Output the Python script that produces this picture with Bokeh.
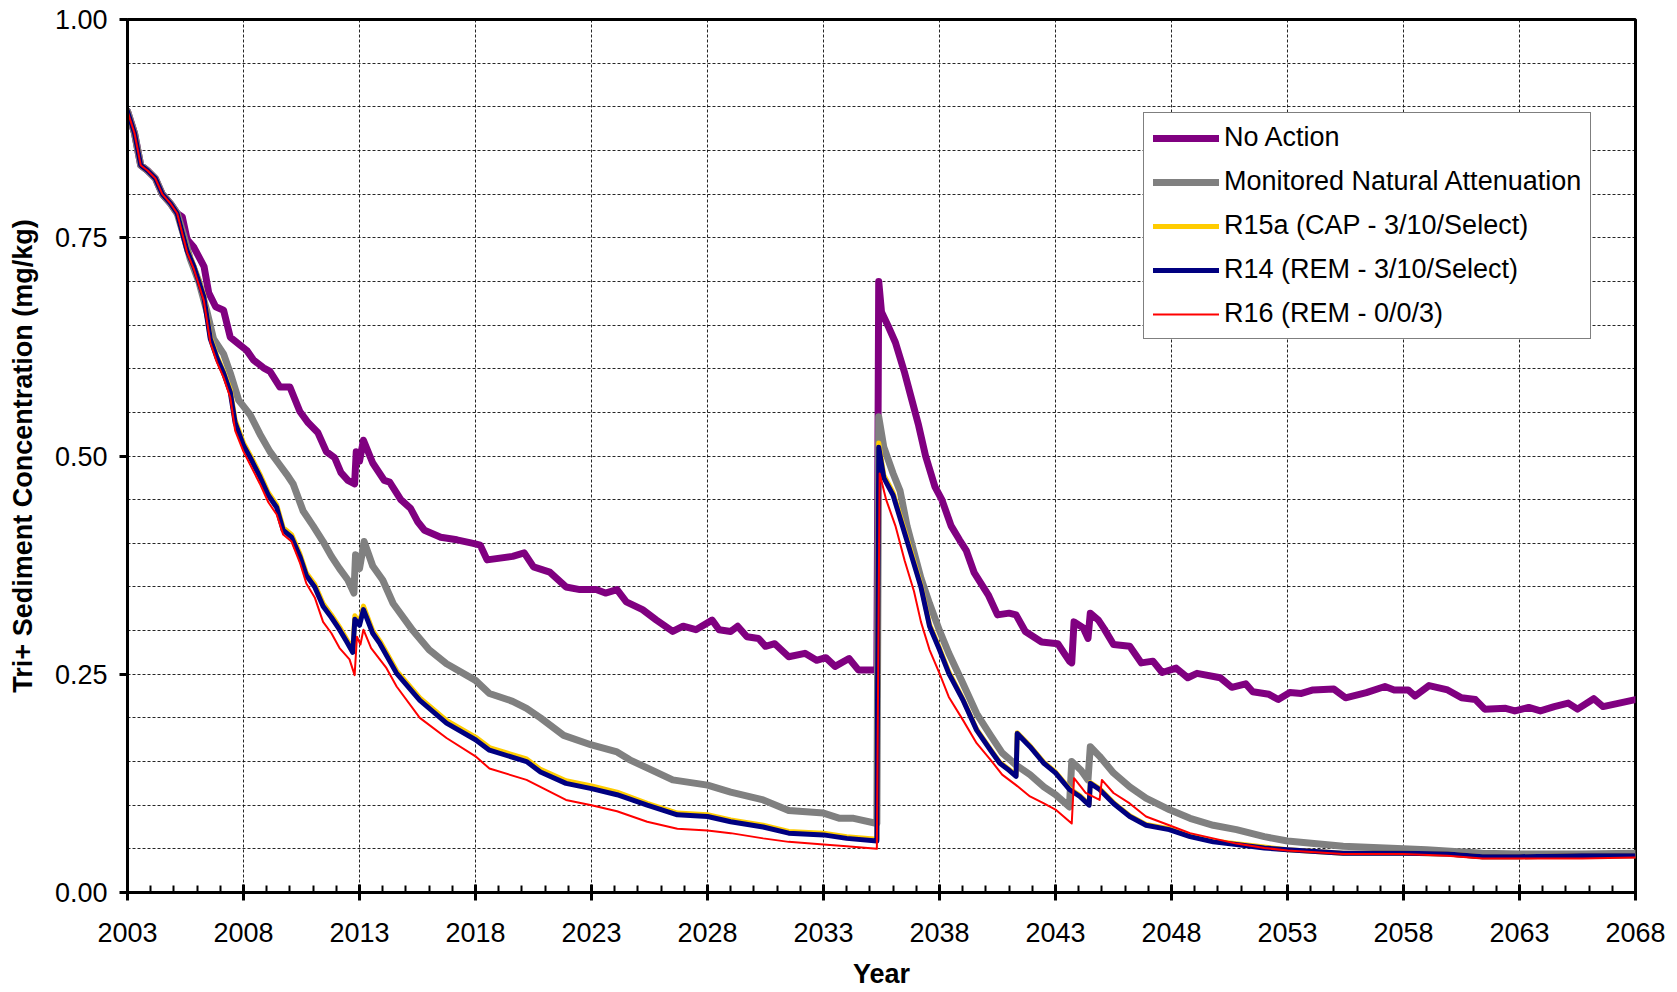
from bokeh.plotting import figure
from bokeh.models import (Legend, LegendItem, FixedTicker, Range1d)
from bokeh.embed import file_html
from bokeh.resources import INLINE

# ---------------- data ----------------
common_years = [2003.0, 2003.3, 2003.57, 2003.86, 2004.2, 2004.5, 2004.86, 2005.14]
common_vals = [0.895, 0.870, 0.833, 0.827, 0.818, 0.800, 0.789, 0.778]

na_years = common_years + [
    2005.36, 2005.57, 2005.86, 2006.3, 2006.5, 2006.8, 2007.14, 2007.43, 2007.86,
    2008.14, 2008.43, 2008.86, 2009.14, 2009.57, 2010.0, 2010.43, 2010.79, 2011.2,
    2011.57, 2011.93, 2012.2, 2012.5, 2012.79, 2012.86, 2013.0, 2013.17, 2013.57,
    2014.07, 2014.3, 2014.78, 2015.2, 2015.5, 2015.8, 2016.5, 2017.2, 2017.9,
    2018.2, 2018.5, 2019.6, 2020.1, 2020.5, 2021.2, 2021.9, 2022.5, 2023.2, 2023.6,
    2024.1, 2024.5, 2025.2, 2025.8, 2026.5, 2026.95, 2027.5, 2028.2, 2028.5, 2029.0,
    2029.3, 2029.7, 2030.2, 2030.5, 2030.9, 2031.5, 2032.2, 2032.7, 2033.1, 2033.5,
    2034.1, 2034.5, 2035.3, 2035.38, 2035.5, 2035.8, 2036.1, 2036.5, 2036.8, 2037.1,
    2037.4, 2037.8, 2038.1, 2038.5, 2038.86, 2039.15, 2039.5, 2040.1, 2040.5, 2041.0,
    2041.3, 2041.7, 2042.4, 2043.1, 2043.6, 2043.7, 2043.8, 2044.2, 2044.4, 2044.5,
    2044.85, 2045.1, 2045.5, 2046.2, 2046.7, 2047.2, 2047.6, 2048.2, 2048.7, 2049.1,
    2050.1, 2050.6, 2051.2, 2051.5, 2052.2, 2052.6, 2053.1, 2053.6, 2054.1, 2055.0,
    2055.5, 2056.4, 2057.2, 2057.6, 2058.2, 2058.5, 2059.1, 2059.9, 2060.5, 2061.1,
    2061.5, 2062.4, 2062.8, 2063.4, 2063.9, 2064.5, 2065.1, 2065.5, 2066.2, 2066.6,
    2067.3, 2068.0]
na_vals = common_vals + [
    0.774, 0.748, 0.739, 0.717, 0.687, 0.671, 0.667, 0.636, 0.627,
    0.621, 0.610, 0.601, 0.597, 0.579, 0.579, 0.551, 0.538, 0.527,
    0.505, 0.498, 0.481, 0.472, 0.468, 0.505, 0.494, 0.518, 0.492,
    0.472, 0.470, 0.450, 0.440, 0.425, 0.415, 0.407, 0.404, 0.400,
    0.398, 0.381, 0.385, 0.389, 0.373, 0.367, 0.350, 0.347, 0.347, 0.343,
    0.347, 0.333, 0.324, 0.312, 0.299, 0.305, 0.301, 0.312, 0.301, 0.299,
    0.305, 0.293, 0.291, 0.282, 0.285, 0.270, 0.274, 0.266, 0.269, 0.259,
    0.268, 0.255, 0.255, 0.700, 0.665, 0.648, 0.630, 0.595, 0.565, 0.535,
    0.500, 0.465, 0.450, 0.420, 0.404, 0.392, 0.366, 0.341, 0.318, 0.320,
    0.318, 0.299, 0.287, 0.285, 0.265, 0.263, 0.310, 0.303, 0.291, 0.320,
    0.312, 0.302, 0.284, 0.282, 0.263, 0.265, 0.252, 0.257, 0.246, 0.251,
    0.246, 0.235, 0.239, 0.230, 0.227, 0.221, 0.229, 0.228, 0.232, 0.233,
    0.223, 0.229, 0.236, 0.232, 0.232, 0.225, 0.237, 0.232, 0.223, 0.221,
    0.210, 0.211, 0.208, 0.212, 0.208, 0.213, 0.217, 0.210, 0.222, 0.213,
    0.217, 0.221]

mna_years = common_years + [
    2005.43, 2005.7, 2006.07, 2006.43, 2006.71, 2007.14, 2007.43, 2007.79, 2008.29,
    2008.71, 2009.14, 2009.5, 2009.86, 2010.14, 2010.57, 2011.0, 2011.43, 2011.79,
    2012.14, 2012.5, 2012.76, 2012.83, 2013.0, 2013.2, 2013.57, 2014.0, 2014.45,
    2015.3, 2016.0, 2016.75, 2018.0, 2018.6, 2019.6, 2020.2, 2020.8, 2021.8, 2023.0,
    2024.1, 2024.65, 2026.5, 2028.0, 2029.0, 2030.4, 2031.5, 2033.0, 2033.7, 2034.3,
    2035.3, 2035.38, 2035.6, 2036.0, 2036.3, 2036.6, 2036.9, 2037.2, 2037.57, 2038.0,
    2038.4, 2039.0, 2039.6, 2040.2, 2040.7, 2041.3, 2041.9, 2042.5, 2043.0, 2043.6,
    2043.7, 2044.1, 2044.4, 2044.5, 2044.9, 2045.5, 2046.2, 2046.9, 2047.9, 2048.8,
    2049.8, 2050.8, 2052.0, 2053.0, 2055.4, 2058.0, 2059.0, 2061.4, 2063.0, 2065.7,
    2068.0]
mna_vals = common_vals + [
    0.752, 0.726, 0.700, 0.665, 0.634, 0.617, 0.595, 0.564, 0.547,
    0.525, 0.505, 0.492, 0.479, 0.468, 0.437, 0.420, 0.402, 0.385,
    0.371, 0.358, 0.343, 0.387, 0.371, 0.402, 0.374, 0.358, 0.331,
    0.300, 0.278, 0.262, 0.243, 0.228, 0.219, 0.211, 0.200, 0.180, 0.169,
    0.161, 0.152, 0.129, 0.123, 0.115, 0.106, 0.094, 0.091, 0.085, 0.085,
    0.079, 0.545, 0.510, 0.480, 0.460, 0.420, 0.390, 0.360, 0.331, 0.300,
    0.274, 0.240, 0.205, 0.180, 0.160, 0.146, 0.135, 0.121, 0.112, 0.098,
    0.150, 0.140, 0.129, 0.167, 0.156, 0.137, 0.121, 0.108, 0.095, 0.085,
    0.077, 0.072, 0.064, 0.059, 0.053, 0.050, 0.049, 0.045, 0.044, 0.044,
    0.045]

r14_years = common_years + [
    2005.57, 2005.86, 2006.29, 2006.57, 2006.86, 2007.14, 2007.43, 2007.64, 2008.0,
    2008.29, 2008.71, 2009.07, 2009.43, 2009.71, 2010.07, 2010.43, 2010.71, 2011.07,
    2011.43, 2011.79, 2012.14, 2012.43, 2012.71, 2012.8, 2013.0, 2013.17, 2013.57,
    2013.88, 2014.6, 2015.6, 2016.75, 2018.0, 2018.6, 2020.2, 2020.8, 2021.9, 2023.0,
    2024.1, 2025.4, 2026.7, 2028.0, 2029.0, 2030.4, 2031.5, 2033.0, 2034.0, 2035.3,
    2035.38, 2035.6, 2036.0, 2036.4, 2036.8, 2037.2, 2037.57, 2038.0, 2038.4, 2039.0,
    2039.6, 2040.2, 2040.6, 2041.0, 2041.3, 2041.35, 2041.9, 2042.5, 2043.0, 2043.6,
    2044.05, 2044.45, 2044.5, 2044.9, 2045.5, 2046.2, 2046.9, 2047.9, 2048.8, 2049.8,
    2050.8, 2052.0, 2053.0, 2055.4, 2058.0, 2059.9, 2061.4, 2063.0, 2065.7, 2068.0]
r14_vals = common_vals + [
    0.735, 0.717, 0.682, 0.634, 0.612, 0.595, 0.573, 0.538, 0.512,
    0.498, 0.476, 0.455, 0.441, 0.415, 0.407, 0.385, 0.363, 0.350,
    0.328, 0.315, 0.301, 0.288, 0.275, 0.313, 0.306, 0.324, 0.297,
    0.285, 0.251, 0.220, 0.194, 0.175, 0.163, 0.150, 0.138, 0.125, 0.119,
    0.112, 0.100, 0.089, 0.087, 0.081, 0.075, 0.068, 0.066, 0.062, 0.059,
    0.510, 0.475, 0.455, 0.420, 0.385, 0.350, 0.305, 0.278, 0.251, 0.221,
    0.186, 0.163, 0.148, 0.140, 0.133, 0.182, 0.167, 0.148, 0.137, 0.118,
    0.110, 0.100, 0.125, 0.118, 0.102, 0.087, 0.077, 0.072, 0.064, 0.058,
    0.055, 0.051, 0.049, 0.045, 0.045, 0.044, 0.041, 0.041, 0.042, 0.042]

r15a_years = list(r14_years)
r15a_vals = common_vals + [
    0.736, 0.718, 0.684, 0.636, 0.614, 0.597, 0.576, 0.541, 0.515,
    0.501, 0.479, 0.458, 0.444, 0.418, 0.410, 0.388, 0.366, 0.353,
    0.331, 0.318, 0.304, 0.291, 0.278, 0.317, 0.309, 0.328, 0.300,
    0.288, 0.254, 0.223, 0.197, 0.178, 0.166, 0.153, 0.141, 0.128, 0.122,
    0.115, 0.102, 0.091, 0.089, 0.083, 0.077, 0.070, 0.068, 0.064, 0.061,
    0.515, 0.478, 0.458, 0.423, 0.388, 0.352, 0.307, 0.280, 0.253, 0.222,
    0.187, 0.164, 0.149, 0.141, 0.134, 0.183, 0.168, 0.149, 0.138, 0.119,
    0.111, 0.101, 0.126, 0.119, 0.103, 0.088, 0.078, 0.073, 0.065, 0.059,
    0.056, 0.052, 0.049, 0.045, 0.045, 0.044, 0.041, 0.041, 0.042, 0.042]

r16_years = common_years + [
    2005.57, 2005.86, 2006.29, 2006.57, 2006.86, 2007.14, 2007.43, 2007.64, 2008.0,
    2008.29, 2008.71, 2009.07, 2009.43, 2009.71, 2010.07, 2010.43, 2010.71, 2011.07,
    2011.43, 2011.79, 2012.14, 2012.57, 2012.79, 2012.89, 2013.04, 2013.17, 2013.5,
    2014.14, 2014.6, 2015.6, 2016.75, 2018.0, 2018.6, 2020.2, 2021.9, 2023.0, 2024.1,
    2025.4, 2026.7, 2028.0, 2029.0, 2030.4, 2031.5, 2033.0, 2034.0, 2035.3, 2035.42,
    2035.7, 2036.1, 2036.5, 2036.9, 2037.2, 2037.57, 2038.0, 2038.4, 2039.0, 2039.6,
    2040.2, 2040.7, 2041.3, 2041.9, 2042.5, 2043.0, 2043.7, 2043.8, 2044.3, 2044.9,
    2045.0, 2045.5, 2046.2, 2046.9, 2047.9, 2048.8, 2049.8, 2050.8, 2052.0, 2053.0,
    2055.4, 2058.0, 2059.9, 2061.4, 2063.0, 2065.7, 2068.0]
r16_vals = common_vals + [
    0.733, 0.714, 0.678, 0.630, 0.607, 0.590, 0.567, 0.529, 0.505,
    0.490, 0.468, 0.447, 0.433, 0.410, 0.402, 0.378, 0.354, 0.338,
    0.310, 0.297, 0.280, 0.267, 0.249, 0.293, 0.284, 0.301, 0.280,
    0.258, 0.236, 0.200, 0.177, 0.156, 0.142, 0.129, 0.106, 0.100, 0.093,
    0.081, 0.073, 0.071, 0.068, 0.062, 0.058, 0.055, 0.053, 0.050, 0.480,
    0.450, 0.420, 0.380, 0.345, 0.310, 0.278, 0.251, 0.224, 0.198, 0.171,
    0.152, 0.135, 0.123, 0.110, 0.102, 0.095, 0.079, 0.131, 0.114, 0.106,
    0.129, 0.114, 0.102, 0.087, 0.077, 0.068, 0.062, 0.056, 0.051, 0.048,
    0.044, 0.044, 0.042, 0.039, 0.039, 0.039, 0.040]

series_names = ["No Action", "Monitored Natural Attenuation",
                "R15a (CAP - 3/10/Select)", "R14 (REM - 3/10/Select)",
                "R16 (REM - 0/0/3)"]

x_major_ticks = list(range(2003, 2069, 5))
x_minor_ticks = list(range(2003, 2069))
y_major_ticks = [0.0, 0.25, 0.5, 0.75, 1.0]
y_tick_labels = ["0.00", "0.25", "0.50", "0.75", "1.00"]
y_grid_ticks = [round(0.05 * i, 2) for i in range(21)]

# ---------------- figure ----------------
FONT = "Liberation Sans"
FS = "27px"

p = figure(width=1670, height=991, output_backend="svg", toolbar_location=None,
           x_range=Range1d(2003, 2068), y_range=Range1d(0, 1),
           min_border_left=127, min_border_right=35, min_border_top=19,
           min_border_bottom=99)
p.background_fill_color = "white"
p.border_fill_color = "white"
p.outline_line_color = "black"
p.outline_line_width = 3

styles = [
    ("#800080", 7, na_years, na_vals),
    ("#808080", 7, mna_years, mna_vals),
    ("#FFCC00", 5, r15a_years, r15a_vals),
    ("#000080", 5, r14_years, r14_vals),
    ("#FF0000", 2, r16_years, r16_vals),
]
renderers = []
for color, lw, xs, ys in styles:
    r = p.line(xs, ys, line_color=color, line_width=lw,
               line_join="round", line_cap="round")
    renderers.append(r)

# axes
p.xaxis.ticker = FixedTicker(ticks=x_major_ticks, minor_ticks=x_minor_ticks)
p.yaxis.ticker = FixedTicker(ticks=y_major_ticks, minor_ticks=[])
p.yaxis.major_label_overrides = {t: s for t, s in zip(y_major_ticks, y_tick_labels)}
p.xaxis.major_label_overrides = {t: str(t) for t in x_major_ticks}

for ax in (p.xaxis[0], p.yaxis[0]):
    ax.axis_line_color = "black"
    ax.axis_line_width = 3
    ax.major_tick_line_color = "black"
    ax.major_tick_line_width = 3
    ax.minor_tick_line_color = "black"
    ax.minor_tick_line_width = 2
    ax.major_label_text_font = FONT
    ax.major_label_text_font_size = FS
    ax.major_label_text_color = "black"
    ax.axis_label_text_font = FONT
    ax.axis_label_text_font_size = FS
    ax.axis_label_text_font_style = "bold"
    ax.axis_label_text_color = "black"

p.xaxis.axis_label = "Year"
p.xaxis.major_tick_in = 8
p.xaxis.major_tick_out = 8
p.xaxis.minor_tick_in = 7
p.xaxis.minor_tick_out = 0
p.xaxis.major_label_standoff = 22
p.xaxis.axis_label_standoff = 14

p.yaxis.axis_label = "Tri+ Sediment Concentration (mg/kg)"
p.yaxis.major_tick_in = 0
p.yaxis.major_tick_out = 8
p.yaxis.minor_tick_in = 0
p.yaxis.minor_tick_out = 0
p.yaxis.major_label_standoff = 12
p.yaxis.axis_label_standoff = 14

# grids
p.xgrid.ticker = FixedTicker(ticks=x_major_ticks)
p.ygrid.ticker = FixedTicker(ticks=y_grid_ticks)
for g in (p.xgrid[0], p.ygrid[0]):
    g.grid_line_color = "black"
    g.grid_line_width = 1
    g.grid_line_dash = "3 2"
    g.grid_line_alpha = 0.85

# legend
items = [LegendItem(label=n, renderers=[r]) for n, r in zip(series_names, renderers)]
legend = Legend(items=items, location=(1016, 553),
                label_text_font=FONT, label_text_font_size=FS,
                label_text_color="black",
                glyph_width=66, glyph_height=30, label_height=30,
                label_standoff=5, spacing=13, padding=9, margin=0,
                border_line_color="black", border_line_width=1,
                background_fill_color="white", background_fill_alpha=1.0)
p.add_layout(legend, "center")

open("out.html", "w").write(file_html(p, INLINE))
